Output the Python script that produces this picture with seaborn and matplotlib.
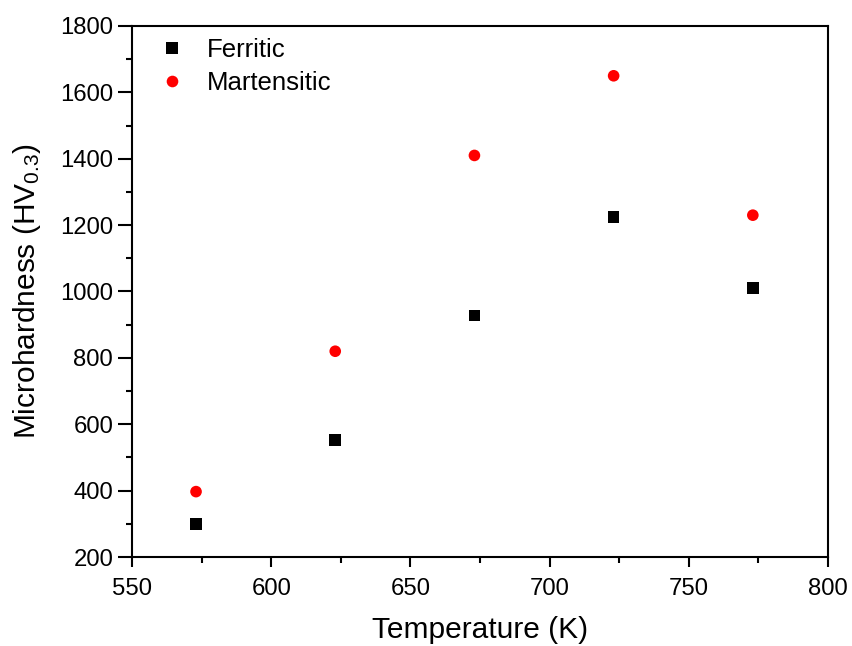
import pandas as pd
import matplotlib.pyplot as plt
import seaborn as sns

# data
temperature = [573, 623, 673, 723, 773]
ferritic = [300, 553, 928, 1225, 1010]
martensitic = [397, 820, 1410, 1650, 1230]

df = pd.concat([
    pd.DataFrame({'Temperature': temperature, 'HV': ferritic, 'Phase': 'Ferritic'}),
    pd.DataFrame({'Temperature': temperature, 'HV': martensitic, 'Phase': 'Martensitic'}),
])

sns.set_style('ticks')
plt.rcParams['font.family'] = ['Liberation Sans', 'DejaVu Sans']
plt.rcParams['mathtext.fontset'] = 'custom'
plt.rcParams['mathtext.rm'] = 'Liberation Sans'
for k in ['text.color', 'axes.labelcolor', 'xtick.color', 'ytick.color', 'axes.edgecolor']:
    plt.rcParams[k] = 'black'

fig = plt.figure(figsize=(8.52, 6.46), dpi=100)
ax = fig.add_axes([132 / 852, 1 - 557 / 646, 696 / 852, 531 / 646])

sns.scatterplot(data=df, x='Temperature', y='HV', hue='Phase', style='Phase',
                palette={'Ferritic': 'black', 'Martensitic': 'red'},
                markers={'Ferritic': 's', 'Martensitic': 'o'},
                s=70, linewidth=0, ax=ax)

ax.set_xlim(550, 800)
ax.set_ylim(200, 1800)
ax.set_xticks(range(550, 801, 50))
ax.set_yticks(range(200, 1801, 200))
ax.set_xticks(range(575, 800, 50), minor=True)
ax.set_yticks(range(300, 1800, 200), minor=True)
ax.tick_params(axis='x', which='major', direction='out', length=7, width=1.5, labelsize=17.2, pad=8)
ax.tick_params(axis='y', which='major', direction='out', length=10, width=1.5, labelsize=17.2, pad=3.5)
ax.tick_params(which='minor', direction='out', length=4.5, width=1.5)
for sp in ax.spines.values():
    sp.set_visible(True)
    sp.set_linewidth(1.5)

ax.set_xlabel('Temperature (K)', fontsize=21.5, labelpad=12)
ax.set_ylabel(r'Microhardness (HV$\mathregular{_{0.3}}$)', fontsize=21.5, labelpad=12)

leg = ax.legend(loc='upper left', frameon=False, fontsize=18.5,
                handlelength=2.2, handletextpad=0.25, borderpad=0.3,
                borderaxespad=0.15, labelspacing=0.35)
leg.set_title(None)

fig.savefig('out.png', dpi=100)
